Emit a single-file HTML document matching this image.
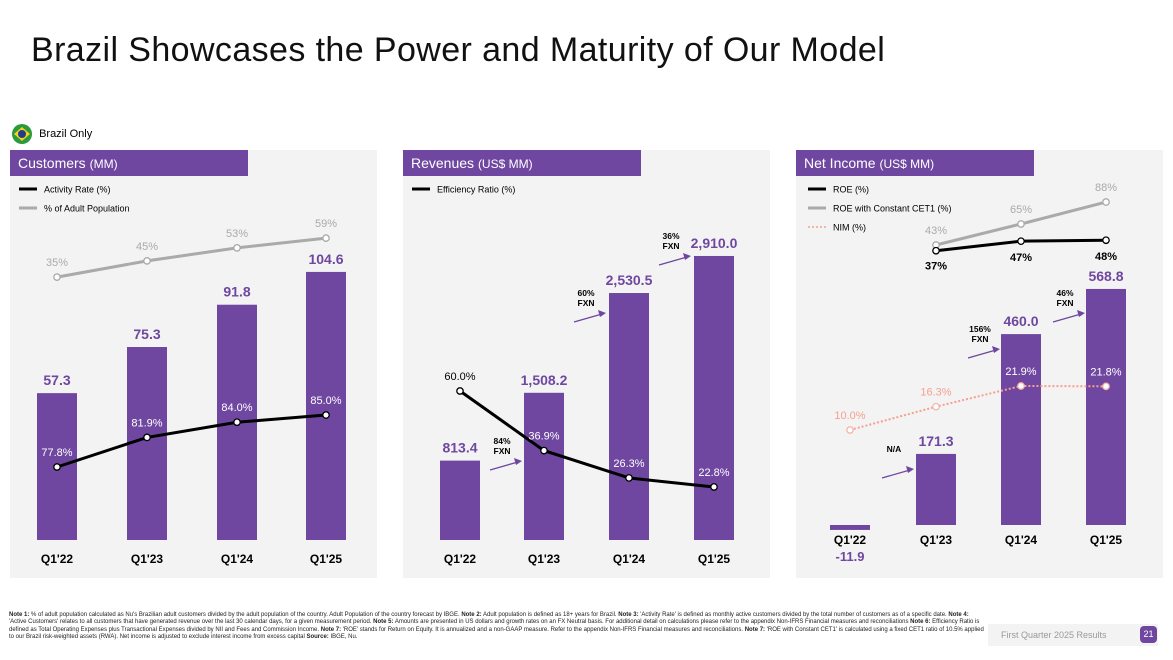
<!DOCTYPE html>
<html><head><meta charset="utf-8">
<style>
body{margin:0;width:1173px;height:660px;background:#fff;font-family:"Liberation Sans",sans-serif;position:relative;overflow:hidden}
.abs{position:absolute}
h1{position:absolute;left:31px;top:31px;margin:0;font-weight:normal;font-size:34px;color:#111;letter-spacing:0.4px;white-space:nowrap}
.panel{position:absolute;top:150px;width:367px;height:428px;background:#f3f3f3}
.hdr{position:absolute;left:0;top:0;width:238px;height:26px;background:#6f47a0;color:#fff;font-size:14px;line-height:26px;padding-left:8px;box-sizing:border-box}
.hdr small{font-size:12px}
svg{position:absolute;left:0;top:0}
.foot{position:absolute;left:9px;top:612px;width:975px;font-size:6px;line-height:7.4px;color:#222}
</style></head><body>
<h1>Brazil Showcases the Power and Maturity of Our Model</h1>
<div class="abs" style="left:12px;top:124px;font-size:11px;line-height:20px">
<svg width="20" height="20" style="position:static;vertical-align:middle"><circle cx="10" cy="10" r="10" fill="#2a9a3c"/><polygon points="10,3 18,10 10,17 2,10" fill="#f6d21b"/><circle cx="10" cy="10" r="4" fill="#243c8c"/></svg>
<span style="vertical-align:middle;margin-left:4px">Brazil Only</span></div>
<div class="panel" style="left:10px"><div class="hdr">Customers <small>(MM)</small></div></div>
<div class="panel" style="left:403px"><div class="hdr">Revenues <small>(US$ MM)</small></div></div>
<div class="panel" style="left:796px"><div class="hdr">Net Income <small>(US$ MM)</small></div></div>
<svg id="chart" width="1173" height="660"></svg>
<div class="foot"><b>Note 1:</b> % of adult population calculated as Nu's Brazilian adult customers divided by the adult population of the country. Adult Population of the country forecast by IBGE. <b>Note 2:</b> Adult population is defined as 18+ years for Brazil. <b>Note 3:</b> 'Activity Rate' is defined as monthly active customers divided by the total number of customers as of a specific date. <b>Note 4:</b> 'Active Customers' relates to all customers that have generated revenue over the last 30 calendar days, for a given measurement period. <b>Note 5:</b> Amounts are presented in US dollars and growth rates on an FX Neutral basis. For additional detail on calculations please refer to the appendix Non-IFRS Financial measures and reconciliations <b>Note 6:</b> Efficiency Ratio is defined as Total Operating Expenses plus Transactional Expenses divided by NII and Fees and Commission Income. <b>Note 7:</b> 'ROE' stands for Return on Equity. It is annualized and a non-GAAP measure. Refer to the appendix Non-IFRS Financial measures and reconciliations. <b>Note 7:</b> 'ROE with Constant CET1' is calculated using a fixed CET1 ratio of 10.5% applied to our Brazil risk-weighted assets (RWA). Net income is adjusted to exclude interest income from excess capital <b>Source:</b> IBGE, Nu.</div>
<div class="abs" style="left:988px;top:624px;width:170px;height:22px;background:#f3f3f3;font-size:9px;color:#999;line-height:22px;padding-left:13px;box-sizing:border-box">First Quarter 2025 Results</div>
<div class="abs" style="left:1140px;top:626px;width:17px;height:17px;border-radius:4px;background:#6f47a0;color:#fff;font-size:9px;text-align:center;line-height:17px">21</div>
<script>
const categories=["Q1'22","Q1'23","Q1'24","Q1'25"];
const customers=[57.3,75.3,91.8,104.6];
const adultPop=[35,45,53,59];
const activity=[77.8,81.9,84.0,85.0];
const revenues=[813.4,1508.2,2530.5,2910.0];
const revenueLabels=["813.4","1,508.2","2,530.5","2,910.0"];
const efficiency=[60.0,36.9,26.3,22.8];
const revFxn=["84%","60%","36%"];
const netIncome=[-11.9,171.3,460.0,568.8];
const roe=[null,37,47,48];
const roeCet=[null,43,65,88];
const nim=[10.0,16.3,21.9,21.8];
const niFxn=["N/A","156%","46%"];
const P="#6f47a0";
const svg=document.getElementById('chart');const NS="http://www.w3.org/2000/svg";
function el(t,a,txt){const e=document.createElementNS(NS,t);for(const k in a)e.setAttribute(k,a[k]);if(txt!=null)e.textContent=txt;svg.appendChild(e);return e;}
function tx(x,y,s,o){return el('text',Object.assign({x:x,y:y,'text-anchor':'middle','font-size':12,'font-family':'Liberation Sans, sans-serif'},o),s);}
function legend(x,y,items){items.forEach((it,i)=>{const l=el('line',{x1:x,x2:x+18,y1:y+i*19,y2:y+i*19,stroke:it[1],'stroke-width':it[2]?1.5:3,'stroke-dasharray':it[2]?'2 2':'none'});const t=tx(x+25,y+i*19+3.5,it[0],{'text-anchor':'start','font-size':9});});}
function line(xs,vals,yf,stroke,w,dash,name){const pts=[];vals.forEach((v,i)=>{if(v!=null)pts.push([xs[i],yf(v)]);});const p=el('polyline',{points:pts.map(p=>p.join(',')).join(' '),fill:'none',stroke:stroke,'stroke-width':w,'stroke-dasharray':dash||'none'});pts.forEach(q=>{const c=el('circle',{cx:q[0],cy:q[1],r:3.2,fill:'#fff',stroke:dash?'#f4b6a8':stroke,'stroke-width':1.3});});return pts;}
function arrow(x,y,label){const a=el('path',{d:`M${x} ${y}L${x+28} ${y-8}`,stroke:P,'stroke-width':1.3,fill:'none'});el('polygon',{points:`${x+32},${y-9} ${x+24},${y-12} ${x+26},${y-5}`,fill:P});
 const ls=label.split('\n');ls.forEach((s,i)=>{const t=tx(x+12,y-26+i*10,s,{'font-size':8.5,'font-weight':'bold'});});}
// Chart 1
{const xs=[57,147,237,326],base=540,k=2.563;
legend(19,189,[["Activity Rate (%)","#000"],["% of Adult Population","#aaa"]]);
customers.forEach((v,i)=>{const b=el('rect',{x:xs[i]-20,y:base-v*k,width:40,height:v*k,fill:P});tx(xs[i],base-v*k-8,v.toFixed(1),{fill:P,'font-weight':'bold','font-size':14});tx(xs[i],563,categories[i],{'font-weight':'bold','font-size':12});});
const yg=v=>334-v*1.625;line(xs,adultPop,yg,'#aaa',3,null,'adult-population-line');adultPop.forEach((v,i)=>tx(xs[i],yg(v)-11,v+'%',{fill:'#aaa','font-size':11}));
const ya=v=>467+(77.8-v)*7.22;line(xs,activity,ya,'#000',3,null,'activity-rate-line');activity.forEach((v,i)=>tx(xs[i],ya(v)-11,v.toFixed(1)+'%',{fill:'#fff','font-size':11}));}
// Chart 2
{const xs=[460,544,629,714],base=540,k=0.0976;
legend(412,189,[["Efficiency Ratio (%)","#000"]]);
revenues.forEach((v,i)=>{const b=el('rect',{x:xs[i]-20,y:base-v*k,width:40,height:v*k,fill:P});tx(xs[i],base-v*k-8,revenueLabels[i],{fill:P,'font-weight':'bold','font-size':14});tx(xs[i],563,categories[i],{'font-weight':'bold','font-size':12});});
const ye=v=>391+(60-v)*2.58;line(xs,efficiency,ye,'#000',3,null,'efficiency-ratio-line');efficiency.forEach((v,i)=>tx(xs[i],ye(v)-11,v.toFixed(1)+'%',{fill:i?'#fff':'#000','font-size':11}));
const ay=[470,322,265];revFxn.forEach((s,i)=>arrow(xs[i]+30,ay[i],s+'\nFXN'));}
// Chart 3
{const xs=[850,936,1021,1106],base=525,k=0.415;
legend(808,189,[["ROE (%)","#000"],["ROE with Constant CET1 (%)","#aaa"],["NIM (%)","#f4a090",1]]);
netIncome.forEach((v,i)=>{const h=Math.abs(v)*k;const b=el('rect',{x:xs[i]-20,y:v<0?base:base-h,width:40,height:Math.max(h,1),fill:P});
 if(v>=0)tx(xs[i],base-h-8,v.toFixed(1),{fill:P,'font-weight':'bold','font-size':14});
 tx(xs[i],544,categories[i],{'font-weight':'bold','font-size':12});});
tx(xs[0],561,netIncome[0].toFixed(1),{fill:P,'font-weight':'bold','font-size':13});
const yr=v=>245-(v-43)*0.955;
line(xs,roeCet,yr,'#aaa',3,null,'roe-cet1-line');roeCet.forEach((v,i)=>{if(v!=null)tx(xs[i],yr(v)-11,v+'%',{fill:'#aaa','font-size':11});});
line(xs,roe,yr,'#000',3,null,'roe-line');roe.forEach((v,i)=>{if(v!=null)tx(xs[i],yr(v)+(i==1?19:20),v+'%',{'font-weight':'bold','font-size':11});});
const yn=v=>430-(v-10)*3.7;line(xs,nim,yn,'#f4a090',2,'2 2','nim-line');nim.forEach((v,i)=>tx(xs[i],yn(v)-11,v.toFixed(1)+'%',{fill:i>1?'#fff':'#f4a090','font-size':11}));
const ay=[478,358,322];niFxn.forEach((s,i)=>arrow(xs[i]+32,ay[i],i==0?s:s+'\nFXN'));}
</script>
</body></html>
